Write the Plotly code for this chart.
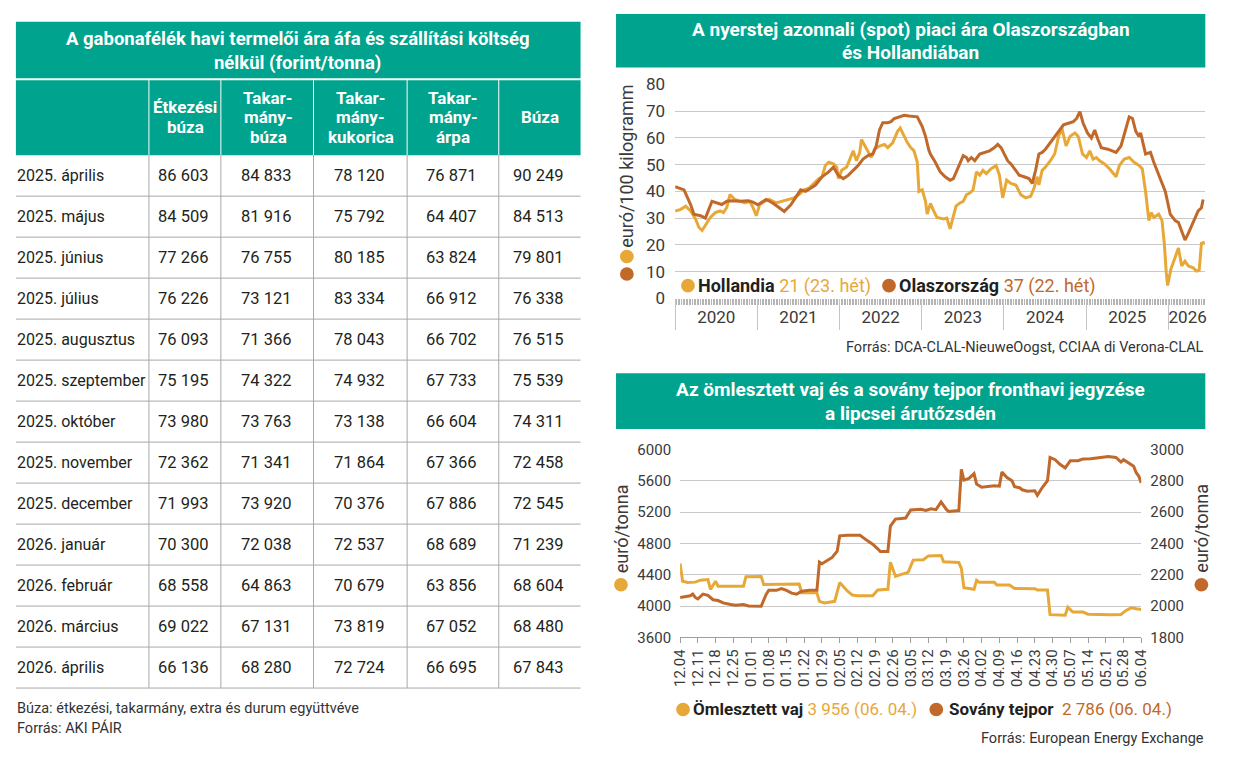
import plotly.graph_objects as go
import pandas as pd

W, H = 1236, 774
def fx(x): return x / W
def fy(y): return 1 - y / H

TEAL = "#00A38D"
YEL = "#E8A838"
BRN = "#C0692A"
TXT = "#231F20"
TICK = "#3A3A3A"
GRID = "#C9C9C9"
TLINE = "#A8A8A8"
FONT = "Roboto"

# ---------------- table data ----------------
months = ["2025. április", "2025. május", "2025. június", "2025. július", "2025. augusztus",
          "2025. szeptember", "2025. október", "2025. november", "2025. december",
          "2026. január", "2026. február", "2026. március", "2026. április"]
col_heads = [["Étkezési", "búza"], ["Takar-", "mány-", "búza"], ["Takar-", "mány-", "kukorica"],
             ["Takar-", "mány-", "árpa"], ["Búza"]]
etkezesi_buza = [86603, 84509, 77266, 76226, 76093, 75195, 73980, 72362, 71993, 70300, 68558, 69022, 66136]
takarmany_buza = [84833, 81916, 76755, 73121, 71366, 74322, 73763, 71341, 73920, 72038, 64863, 67131, 68280]
takarmany_kukorica = [78120, 75792, 80185, 83334, 78043, 74932, 73138, 71864, 70376, 72537, 70679, 73819, 72724]
takarmany_arpa = [76871, 64407, 63824, 66912, 66702, 67733, 66604, 67366, 67886, 68689, 63856, 67052, 66695]
buza = [90249, 84513, 79801, 76338, 76515, 75539, 74311, 72458, 72545, 71239, 68604, 68480, 67843]

# ---------------- raw milk spot prices (years since 2020-01-01, EUR/100 kg) ----------------
holl_t = [0.000, 0.068, 0.128, 0.188, 0.248, 0.288, 0.328, 0.368, 0.428, 0.488, 0.548, 0.588, 0.628,
          0.667, 0.727, 0.787, 0.847, 0.907, 0.947, 0.987, 1.027, 1.087, 1.147, 1.227, 1.307, 1.387,
          1.447, 1.507, 1.567, 1.627, 1.687, 1.747, 1.787, 1.827, 1.867, 1.926, 1.966, 1.986, 2.026,
          2.086, 2.126, 2.166, 2.206, 2.246, 2.266, 2.306, 2.346, 2.386, 2.426, 2.486, 2.546, 2.586,
          2.646, 2.706, 2.738, 2.786, 2.826, 2.866, 2.906, 2.946, 2.966, 3.006, 3.046, 3.066, 3.106,
          3.145, 3.185, 3.265, 3.305, 3.345, 3.377, 3.417, 3.465, 3.505, 3.545, 3.585, 3.625, 3.665,
          3.705, 3.745, 3.785, 3.845, 3.905, 3.945, 3.985, 4.033, 4.085, 4.145, 4.205, 4.265, 4.325,
          4.365, 4.405, 4.425, 4.465, 4.505, 4.565, 4.617, 4.665, 4.705, 4.756, 4.804, 4.864, 4.904,
          4.956, 5.004, 5.044, 5.084, 5.124, 5.164, 5.224, 5.284, 5.364, 5.404, 5.464, 5.524, 5.584,
          5.643, 5.683, 5.723, 5.763, 5.791, 5.823, 5.883, 5.923, 5.951, 5.975, 5.991, 6.031, 6.071,
          6.123, 6.163, 6.203, 6.243, 6.303, 6.343, 6.375, 6.403, 6.443]
holl_v = [32.7, 33.3, 34.5, 32.7, 29.7, 26.6, 25.4, 27.2, 30.3, 32.1, 32.7, 32.1, 34.0,
          38.8, 37.0, 36.4, 35.7, 36.3, 34.0, 30.9, 35.0, 36.3, 37.0, 35.7, 36.3, 37.0,
          37.6, 38.8, 40.6, 41.2, 43.0, 44.8, 45.5, 49.7, 50.9, 50.3, 49.1, 44.8, 47.9,
          49.1, 52.1, 55.2, 51.5, 54.6, 59.4, 57.0, 55.2, 52.7, 55.8, 57.0, 57.6, 56.4,
          58.2, 62.5, 63.7, 60.6, 58.2, 56.4, 55.2, 50.9, 40.0, 40.6, 36.3, 31.5, 35.5,
          32.7, 30.3, 29.7, 30.0, 26.0, 30.3, 34.5, 35.7, 36.3, 38.8, 39.4, 40.6, 47.3,
          46.1, 47.9, 46.7, 48.5, 49.7, 46.1, 37.6, 44.2, 43.0, 42.4, 38.8, 37.6, 38.2,
          41.2, 45.5, 42.4, 47.9, 49.1, 51.5, 54.0, 60.6, 63.7, 57.0, 60.6, 61.9, 60.6,
          54.0, 52.7, 55.2, 52.1, 52.7, 51.5, 50.3, 48.5, 45.5, 49.7, 52.1, 52.7, 50.9,
          49.7, 48.5, 40.0, 29.1, 32.1, 30.3, 31.5, 29.1, 20.6, 9.6, 4.8, 10.9, 14.5,
          18.8, 12.1, 13.9, 12.1, 11.4, 10.2, 10.5, 20.6, 21.0]

olasz_t = [0.000, 0.108, 0.188, 0.228, 0.308, 0.368, 0.448, 0.508, 0.568, 0.628, 0.687, 0.787,
           0.887, 0.947, 1.007, 1.107, 1.187, 1.267, 1.327, 1.407, 1.467, 1.527, 1.587, 1.647,
           1.707, 1.787, 1.867, 1.926, 1.986, 2.046, 2.106, 2.166, 2.226, 2.286, 2.346, 2.406,
           2.446, 2.486, 2.526, 2.586, 2.626, 2.666, 2.726, 2.786, 2.846, 2.906, 2.946, 3.006,
           3.046, 3.086, 3.105, 3.165, 3.225, 3.285, 3.345, 3.385, 3.425, 3.465, 3.505, 3.545,
           3.565, 3.605, 3.645, 3.705, 3.765, 3.825, 3.885, 3.925, 3.965, 4.005, 4.045, 4.085,
           4.145, 4.185, 4.245, 4.305, 4.345, 4.385, 4.425, 4.465, 4.505, 4.565, 4.625, 4.685,
           4.725, 4.784, 4.844, 4.884, 4.924, 4.964, 5.016, 5.064, 5.104, 5.144, 5.184, 5.264,
           5.324, 5.364, 5.424, 5.484, 5.524, 5.564, 5.604, 5.643, 5.663, 5.723, 5.783, 5.823,
           5.903, 5.963, 6.023, 6.083, 6.123, 6.163, 6.203, 6.243, 6.283, 6.323, 6.363, 6.403, 6.423]
olasz_v = [41.8, 40.6, 35.1, 31.5, 30.9, 30.0, 36.3, 35.7, 35.1, 36.3, 36.5, 36.3,
           36.5, 36.0, 35.0, 37.0, 35.7, 33.9, 32.5, 35.0, 37.6, 40.6, 40.0, 41.2,
           42.4, 45.5, 47.3, 49.1, 46.0, 44.8, 46.0, 47.9, 49.7, 52.1, 53.4, 54.0,
           57.0, 63.0, 65.7, 65.7, 66.1, 67.3, 67.9, 68.5, 68.2, 67.9, 67.9, 64.3,
           60.6, 55.5, 54.0, 50.9, 47.3, 45.5, 44.2, 44.8, 47.9, 50.9, 53.4, 52.7,
           51.5, 52.7, 51.5, 54.0, 54.6, 55.2, 56.4, 57.6, 56.4, 54.0, 51.5, 50.3,
           47.9, 46.1, 45.5, 44.8, 43.0, 47.9, 54.0, 54.6, 55.8, 58.2, 60.6, 63.0,
           64.9, 65.5, 66.1, 67.3, 69.8, 65.5, 61.9, 60.0, 63.0, 59.4, 56.4, 55.8,
           55.2, 54.6, 57.0, 63.0, 67.9, 67.3, 62.5, 60.6, 61.9, 54.0, 54.6, 50.9,
           44.8, 40.0, 31.5, 29.1, 28.4, 24.8, 21.8, 24.3, 27.2, 30.3, 32.7, 33.9, 37.0]

year_labels = ["2020", "2021", "2022", "2023", "2024", "2025", "2026"]
year_label_pos = [2020.5, 2021.5, 2022.5, 2023.5, 2024.5, 2025.5, 2026.235]
year_starts = [2020, 2021, 2022, 2023, 2024, 2025, 2026]

# ---------------- EEX butter / SMP (EUR/t) ----------------
vaj_d = ["2025-12-04", "2025-12-05", "2025-12-07", "2025-12-10", "2025-12-12", "2025-12-15",
         "2025-12-16", "2025-12-18", "2025-12-19", "2025-12-24", "2025-12-29", "2025-12-30",
         "2026-01-02", "2026-01-05", "2026-01-06", "2026-01-13", "2026-01-20", "2026-01-21",
         "2026-01-27", "2026-01-28", "2026-01-30", "2026-02-03", "2026-02-05", "2026-02-08",
         "2026-02-10", "2026-02-12", "2026-02-18", "2026-02-20", "2026-02-24", "2026-02-25",
         "2026-02-27", "2026-03-01", "2026-03-04", "2026-03-06", "2026-03-10", "2026-03-12",
         "2026-03-17", "2026-03-18", "2026-03-24", "2026-03-25", "2026-03-26", "2026-03-30",
         "2026-03-31", "2026-04-01", "2026-04-07", "2026-04-08", "2026-04-13", "2026-04-15",
         "2026-04-23", "2026-04-24", "2026-04-28", "2026-04-29", "2026-05-05", "2026-05-06",
         "2026-05-08", "2026-05-12", "2026-05-14", "2026-05-23", "2026-05-27", "2026-05-29",
         "2026-05-31", "2026-06-02", "2026-06-04"]
vaj_v = [4544, 4316, 4300, 4305, 4330, 4337, 4213, 4316, 4254, 4250, 4254, 4375,
         4380, 4378, 4275, 4280, 4280, 4170, 4168, 4060, 4040, 4060, 4300, 4192,
         4140, 4130, 4130, 4205, 4213, 4560, 4378, 4400, 4430, 4586, 4590, 4640,
         4645, 4565, 4556, 4480, 4234, 4213, 4329, 4304, 4304, 4267, 4267, 4225,
         4221, 4205, 4205, 3890, 3882, 3985, 3923, 3923, 3895, 3890, 3892, 3944,
         3977, 3965, 3956]

tejpor_d = ["2025-12-04", "2025-12-06", "2025-12-08", "2025-12-09", "2025-12-10", "2025-12-11",
            "2025-12-13", "2025-12-15", "2025-12-16", "2025-12-17", "2025-12-19", "2025-12-21",
            "2025-12-24", "2025-12-26", "2025-12-29", "2025-12-31", "2026-01-05", "2026-01-07",
            "2026-01-08", "2026-01-11", "2026-01-13", "2026-01-15", "2026-01-17", "2026-01-19",
            "2026-01-21", "2026-01-24", "2026-01-27", "2026-01-28", "2026-01-29", "2026-01-31",
            "2026-02-02", "2026-02-04", "2026-02-05", "2026-02-08", "2026-02-13", "2026-02-16",
            "2026-02-18", "2026-02-20", "2026-02-21", "2026-02-24", "2026-02-25", "2026-02-27",
            "2026-03-03", "2026-03-05", "2026-03-09", "2026-03-11", "2026-03-13", "2026-03-15",
            "2026-03-17", "2026-03-19", "2026-03-20", "2026-03-24", "2026-03-25", "2026-03-26",
            "2026-03-28", "2026-03-30", "2026-03-31", "2026-04-02", "2026-04-07", "2026-04-09",
            "2026-04-10", "2026-04-12", "2026-04-14", "2026-04-15", "2026-04-17", "2026-04-18",
            "2026-04-20", "2026-04-23", "2026-04-24", "2026-04-26", "2026-04-28", "2026-04-29",
            "2026-05-01", "2026-05-03", "2026-05-05", "2026-05-07", "2026-05-10", "2026-05-12",
            "2026-05-15", "2026-05-19", "2026-05-22", "2026-05-25", "2026-05-27", "2026-05-28",
            "2026-05-30", "2026-06-01", "2026-06-02", "2026-06-03", "2026-06-04"]
tejpor_v = [2055, 2059, 2065, 2076, 2055, 2045, 2076, 2068, 2055, 2040, 2035, 2020,
            2010, 2005, 2010, 2000, 1998, 2076, 2100, 2100, 2112, 2100, 2082, 2076,
            2095, 2100, 2100, 2280, 2270, 2290, 2310, 2350, 2448, 2452, 2452, 2416,
            2395, 2365, 2348, 2348, 2510, 2555, 2562, 2613, 2617, 2610, 2620, 2615,
            2665, 2618, 2603, 2609, 2872, 2804, 2815, 2845, 2779, 2758, 2768, 2765,
            2855, 2820, 2799, 2762, 2755, 2742, 2733, 2735, 2706, 2758, 2800, 2948,
            2934, 2903, 2882, 2928, 2928, 2938, 2940, 2948, 2955, 2948, 2919, 2934,
            2913, 2892, 2851, 2830, 2786]

week_ticks = pd.date_range("2025-12-04", "2026-06-04", freq="7D")

# ---------------- figure ----------------
holl_x = [2020 + t for t in holl_t]
olasz_x = [2020 + t for t in olasz_t]
xr1 = [2020, 2026.45]
week_comb = [2020 + k / 52.0 for k in range(int((xr1[1] - 2020) * 52) + 1)]

fig = go.Figure()
fig.add_trace(go.Scatter(x=holl_x, y=holl_v, mode="lines", line=dict(color=YEL, width=3),
                         xaxis="x", yaxis="y", hoverinfo="skip", showlegend=False))
fig.add_trace(go.Scatter(x=olasz_x, y=olasz_v, mode="lines", line=dict(color=BRN, width=3),
                         xaxis="x", yaxis="y", hoverinfo="skip", showlegend=False))
fig.add_trace(go.Scatter(x=[], y=[], xaxis="x2", yaxis="y", showlegend=False, hoverinfo="skip"))
fig.add_trace(go.Scatter(x=[], y=[], xaxis="x3", yaxis="y", showlegend=False, hoverinfo="skip"))
fig.add_trace(go.Scatter(x=vaj_d, y=vaj_v, mode="lines", line=dict(color=YEL, width=3),
                         xaxis="x4", yaxis="y2", hoverinfo="skip", showlegend=False))
fig.add_trace(go.Scatter(x=tejpor_d, y=tejpor_v, mode="lines", line=dict(color=BRN, width=3),
                         xaxis="x4", yaxis="y3", hoverinfo="skip", showlegend=False))

tickf17 = dict(family=FONT, size=17, color=TICK)
tickf15 = dict(family=FONT, size=15, color=TICK)

fig.update_layout(
    width=W, height=H, margin=dict(l=0, r=0, t=0, b=0),
    paper_bgcolor="white", plot_bgcolor="rgba(0,0,0,0)",
    font=dict(family=FONT, color=TXT),
    xaxis=dict(domain=[fx(676), fx(1214)], range=xr1, anchor="y", tickmode="array",
               tickvals=year_label_pos, ticktext=year_labels, ticks="", showgrid=False,
               zeroline=False, showline=False, tickfont=tickf17, ticklabelstandoff=7,
               fixedrange=True),
    xaxis2=dict(overlaying="x", anchor="y", range=xr1, tickmode="array", tickvals=week_comb,
                ticks="outside", ticklen=6, tickwidth=1, tickcolor="#B5B5B5",
                showticklabels=False, showgrid=False, zeroline=False, showline=False),
    xaxis3=dict(overlaying="x", anchor="y", range=xr1, tickmode="array", tickvals=year_starts,
                ticks="outside", ticklen=31, tickwidth=1, tickcolor="#C4C4C4",
                showticklabels=False, showgrid=False, zeroline=False, showline=False),
    yaxis=dict(domain=[fy(296), fy(76.5)], range=[0, 80], tick0=0, dtick=10, anchor="x",
               gridcolor=GRID, gridwidth=1, zeroline=False, showline=False, ticks="",
               tickfont=tickf17, ticklabelstandoff=9, fixedrange=True),
    xaxis4=dict(domain=[fx(681), fx(1149)], type="date", range=["2025-12-04", "2026-06-04"],
                anchor="y2", tickmode="array", tickvals=week_ticks, tickformat="%m.%d",
                tickangle=-90, ticks="outside", ticklen=5, tickcolor="#9E9E9E",
                showline=True, linecolor="#9E9E9E", linewidth=1, showgrid=False,
                zeroline=False, tickfont=tickf15, fixedrange=True),
    yaxis2=dict(domain=[fy(644), fy(451)], range=[3600, 6000], tick0=3600, dtick=400,
                anchor="x4", gridcolor=GRID, zeroline=False, showline=False, ticks="",
                tickfont=tickf15, ticklabelstandoff=8, fixedrange=True),
    yaxis3=dict(overlaying="y2", side="right", anchor="x4", range=[1800, 3000], tick0=1800,
                dtick=200, showgrid=False, zeroline=False, showline=False, ticks="",
                tickfont=tickf15, ticklabelstandoff=8, fixedrange=True),
)

shapes = []
ann = []

def rect(x0, y0, x1, y1, color):
    shapes.append(dict(type="rect", xref="paper", yref="paper", x0=fx(x0), x1=fx(x1),
                       y0=fy(y1), y1=fy(y0), fillcolor=color, line=dict(width=0), layer="below"))

def hline(x0, x1, y, color, w=1):
    shapes.append(dict(type="line", xref="paper", yref="paper", x0=fx(x0), x1=fx(x1),
                       y0=fy(y), y1=fy(y), line=dict(color=color, width=w)))

def vline(x, y0, y1, color, w=1):
    shapes.append(dict(type="line", xref="paper", yref="paper", x0=fx(x), x1=fx(x),
                       y0=fy(y0), y1=fy(y1), line=dict(color=color, width=w)))

def dot(x, y, color, r=6.5):
    shapes.append(dict(type="circle", xref="paper", yref="paper", x0=fx(x - r), x1=fx(x + r),
                       y0=fy(y + r), y1=fy(y - r), fillcolor=color, line=dict(width=0)))

def text(x, y, s, size=16, color=TXT, xanchor="center", bold=False, angle=0, yanchor="middle"):
    if bold:
        s = "<b>" + s + "</b>"
    ann.append(dict(xref="paper", yref="paper", x=fx(x), y=fy(y), text=s, showarrow=False,
                    xanchor=xanchor, yanchor=yanchor, textangle=angle, borderpad=0,
                    font=dict(family=FONT, size=size, color=color), align="center"))

# ---------- table ----------
TL, TR = 7, 580
col_bounds = [142, 215, 309, 404, 497]
col_centers = [177, 261, 355, 449, 537]
rect(TL, 12, TR, 70, TEAL)
rect(TL, 72, TR, 149, TEAL)
text(293, 30, "A gabonafélék havi termelői ára áfa és szállítási költség", size=18.5,
     color="white", bold=True)
text(293, 54, "nélkül (forint/tonna)", size=18.5, color="white", bold=True)
for xb in col_bounds:
    vline(xb, 72, 149, "white", 1)
for cx, lines in zip(col_centers, col_heads):
    n = len(lines)
    for j, ln in enumerate(lines):
        text(cx + 2, 110 + (j - (n - 1) / 2) * 20, ln, size=17, color="white", bold=True)

row0, rh = 149, 42.08
for i in range(1, len(months) + 1):
    hline(TL, TR, row0 + i * rh, TLINE)
for xb in col_bounds:
    vline(xb, row0, row0 + len(months) * rh, TLINE)

def fmt(v):
    return f"{v:,}".replace(",", " ")

cols = [etkezesi_buza, takarmany_buza, takarmany_kukorica, takarmany_arpa, buza]
for i, m in enumerate(months):
    yc = row0 + (i + 0.5) * rh
    text(TL, yc, m, size=16, xanchor="left")
    for cx, col in zip(col_centers, cols):
        text(cx, yc, fmt(col[i]), size=16.5)

text(TL, 717, "Búza: étkezési, takarmány, extra és durum együttvéve", size=14.5, color="#333",
     xanchor="left")
text(TL, 737, "Forrás: AKI PÁIR", size=14.5, color="#333", xanchor="left")

# ---------- chart 1 ----------
rect(616, 4, 1214, 59, TEAL)
text(915, 20, "A nyerstej azonnali (spot) piaci ára Olaszországban", size=19, color="white", bold=True)
text(915, 44, "és Hollandiában", size=19, color="white", bold=True)
text(627, 160, "euró/100 kilogramm", size=18, color=TICK, angle=-90)
dot(627, 253, YEL, 7)
dot(627, 271, BRN, 7)
dot(689, 283, YEL, 7)
text(698, 283, "<b>Hollandia</b> <span style='color:%s'>21 (23. hét)</span>" % YEL,
     size=18, xanchor="left")
dot(893, 283, BRN, 7)
text(902, 283, "<b>Olaszország</b> <span style='color:%s'>37 (22. hét)</span>" % BRN,
     size=18, xanchor="left")
text(1214, 346, "Forrás: DCA-CLAL-NieuweOogst, CCIAA di Verona-CLAL", size=14.5,
     color="#333", xanchor="right")

# ---------- chart 2 ----------
rect(616, 373, 1214, 430, TEAL)
text(915, 390, "Az ömlesztett vaj és a sovány tejpor fronthavi jegyzése", size=19,
     color="white", bold=True)
text(915, 414, "a lipcsei árutőzsdén", size=19, color="white", bold=True)
text(621, 532, "euró/tonna", size=18, color=TICK, angle=-90)
dot(621, 590, YEL, 7)
text(1210, 532, "euró/tonna", size=18, color=TICK, angle=-90)
dot(1210, 590, BRN, 7)
dot(684, 718, YEL, 7)
text(693, 718, "<b>Ömlesztett vaj</b> <span style='color:%s'>3 956 (06. 04.)</span>" % YEL,
     size=17, xanchor="left")
dot(941, 718, BRN, 7)
text(953, 718, "<b>Sovány tejpor</b>  <span style='color:%s'>2 786 (06. 04.)</span>" % BRN,
     size=17, xanchor="left")
text(1214, 748, "Forrás: European Energy Exchange", size=14.5, color="#333", xanchor="right")

fig.update_layout(shapes=shapes, annotations=ann)
fig.write_html("out.html")
